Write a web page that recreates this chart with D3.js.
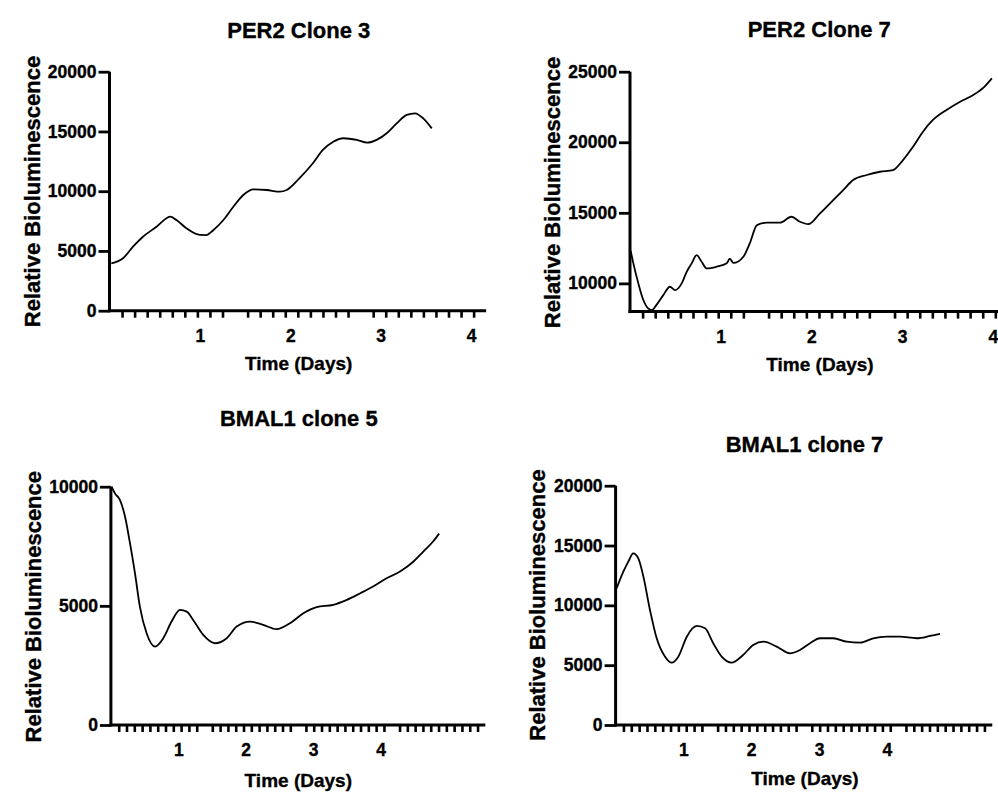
<!DOCTYPE html>
<html><head><meta charset="utf-8">
<script src="https://cdn.jsdelivr.net/npm/d3@7"></script>
<style>
body{margin:0;background:#fff}
svg text{font-family:"Liberation Sans",Arial,Helvetica,sans-serif;font-weight:bold;fill:#000;stroke:#000;stroke-width:0.35px}
</style>
</head><body>
<svg id="chart" width="998" height="793"></svg>
<script>
// ---------- DATA ----------
const per2c3Days   = [0.02,0.15,0.26,0.37,0.52,0.63,0.67,0.74,0.85,1.0,1.07,1.15,1.26,1.37,1.48,1.59,1.74,1.885,1.96,2.1,2.25,2.36,2.475,2.587,2.735,2.85,2.955,3.066,3.177,3.288,3.38,3.47,3.565];
const per2c3Values = [3970,4390,5360,6190,7030,7730,7870,7590,6900,6340,6330,6750,7590,8700,9680,10160,10100,9960,10100,11080,12340,13450,14140,14430,14290,14060,14290,14850,15680,16380,16520,16100,15260];

const per2c7Days   = [0.008,0.037,0.092,0.147,0.2,0.24,0.29,0.367,0.44,0.496,0.57,0.625,0.68,0.735,0.79,0.845,0.955,1.066,1.1,1.14,1.25,1.32,1.40,1.51,1.654,1.78,1.874,1.966,2.095,2.24,2.35,2.46,2.61,2.756,2.90,3.01,3.12,3.23,3.34,3.49,3.64,3.785,3.90,3.99];
const per2c7Values = [12300,11420,10000,8820,8230,8110,8460,9170,9760,9520,10000,10820,11420,12000,11530,11060,11180,11420,11750,11450,11890,12830,14130,14300,14300,14720,14370,14200,14960,15900,16610,17320,17680,17910,18030,18740,19680,20750,21580,22290,22870,23350,23890,24530];

const bmal1c5Days   = [0.01,0.06,0.135,0.21,0.283,0.357,0.43,0.53,0.655,0.777,0.9,1.025,1.125,1.22,1.37,1.545,1.718,1.866,2.064,2.26,2.46,2.657,2.855,3.053,3.3,3.5,3.7,3.89,4.09,4.29,4.49,4.635,4.78,4.87];
const bmal1c5Values = [10000,9720,9440,8740,7630,6370,4970,3850,3290,3640,4340,4830,4760,4410,3780,3430,3640,4130,4340,4200,4020,4270,4690,4950,5040,5250,5530,5810,6160,6440,6860,7280,7700,8030];

const bmal1c7Days   = [0.016,0.114,0.187,0.26,0.335,0.41,0.507,0.606,0.73,0.827,0.925,1.05,1.196,1.32,1.44,1.565,1.71,1.88,2.03,2.18,2.376,2.57,2.72,2.867,3.015,3.21,3.41,3.605,3.8,4.0,4.195,4.44,4.64,4.785];
const bmal1c7Values = [11430,12810,13650,14350,13930,12400,9610,7250,5710,5210,5710,7380,8280,8080,6830,5710,5210,5850,6690,6960,6550,5990,6270,6830,7250,7250,6960,6880,7250,7380,7380,7250,7440,7610];

const titles = ["PER2 Clone 3","PER2 Clone 7","BMAL1 clone 5","BMAL1 clone 7"];
const per2c3YTicks  = [0,5000,10000,15000,20000];
const per2c7YTicks  = [10000,15000,20000,25000];
const bmal1c5YTicks = [0,5000,10000];
const bmal1c7YTicks = [0,5000,10000,15000,20000];
const dayTickLabels = [1,2,3,4];
const xAxisTitle = "Time (Days)";
const yAxisTitle = "Relative Bioluminescence";

// ---------- LAYOUT ----------
const panels = [
  {title:titles[0], days:per2c3Days, values:per2c3Values, yDomain:[0,20000], yTicks:per2c3YTicks,
   xMaxDays:100/24, minorN:30, skip:10,
   x0:109.5, pxDay:90.4, yTop:71.7, yBot:310.7,
   tX:298.8, tY:37.5, xlX:298.7, xlY:370.3, ylX:40, ylY:191.5},
  {title:titles[1], days:per2c7Days, values:per2c7Values, yDomain:[8000,25000], yTicks:per2c7YTicks,
   xMaxDays:100/24, minorN:30, skip:10,
   x0:630, pxDay:90.7, yTop:71.7, yBot:311.6,
   tX:819.2, tY:36.5, xlX:820, xlY:370.5, ylX:560, ylY:192.5},
  {title:titles[2], days:bmal1c5Days, values:bmal1c5Values, yDomain:[0,10000], yTicks:bmal1c5YTicks,
   xMaxDays:(400/3)/24, minorN:48, skip:12,
   x0:110.9, pxDay:67.4, yTop:486.7, yBot:725,
   tX:298.8, tY:426, xlX:298.3, xlY:787, ylX:40.5, ylY:606.7},
  {title:titles[3], days:bmal1c7Days, values:bmal1c7Values, yDomain:[0,20000], yTicks:bmal1c7YTicks,
   xMaxDays:(400/3)/24, minorN:48, skip:12,
   x0:615.6, pxDay:67.8, yTop:485.7, yBot:725,
   tX:804.5, tY:451.5, xlX:805, xlY:785.3, ylX:545, ylY:605}
];

const svg = d3.select("#chart");
svg.append("rect").attr("width",998).attr("height",793).attr("fill","#fff");

panels.forEach(p => {
  const g = svg.append("g");
  const x = d3.scaleLinear().domain([0, p.xMaxDays]).range([p.x0, p.x0 + p.pxDay * p.xMaxDays]);
  const y = d3.scaleLinear().domain(p.yDomain).range([p.yBot, p.yTop]);

  // minor ticks (x)
  const step = p.xMaxDays / p.minorN;
  const minor = d3.range(1, p.minorN + 1).filter(i => i % p.skip !== 0).map(i => i * step);
  const gx = g.append("g").attr("transform", `translate(0,${p.yBot})`)
    .call(d3.axisBottom(x).tickValues(minor).tickSize(7).tickSizeOuter(0).tickFormat(""));
  gx.select(".domain").attr("stroke","#000").attr("stroke-width",3).attr("d",`M${p.x0 - 1.5},0H${x.range()[1]}`);
  gx.selectAll(".tick line").attr("stroke","#000").attr("stroke-width",2.6);

  // day labels
  const gl = g.append("g").attr("transform", `translate(0,${p.yBot})`)
    .call(d3.axisBottom(x).tickValues(dayTickLabels).tickSize(0).tickPadding(19).tickFormat(d3.format("d")));
  gl.select(".domain").remove();
  gl.selectAll("text").style("font-size","17.5px");

  // y axis
  const gy = g.append("g").attr("transform", `translate(${p.x0},0)`)
    .call(d3.axisLeft(y).tickValues(p.yTicks).tickSize(11).tickPadding(2).tickSizeOuter(0).tickFormat(d3.format("d")));
  gy.select(".domain").attr("stroke","#000").attr("stroke-width",3).attr("d",`M0,${p.yTop}V${p.yBot + 1.5}`);
  gy.selectAll(".tick line").attr("stroke","#000").attr("stroke-width",2.8);
  gy.selectAll("text").style("font-size","17.5px");

  // data line
  const pts = p.days.map((d,i) => [d, p.values[i]]);
  g.append("path").datum(pts)
    .attr("fill","none").attr("stroke","#000").attr("stroke-width",1.8)
    .attr("stroke-linejoin","round")
    .attr("d", d3.line().x(d => x(d[0])).y(d => y(d[1])).curve(d3.curveMonotoneX));

  // titles
  g.append("text").attr("x",p.tX).attr("y",p.tY).attr("text-anchor","middle")
    .style("font-size","22px").text(p.title);
  g.append("text").attr("x",p.xlX).attr("y",p.xlY).attr("text-anchor","middle")
    .style("font-size","19px").text(xAxisTitle);
  g.append("text").attr("transform",`translate(${p.ylX},${p.ylY}) rotate(-90)`).attr("text-anchor","middle")
    .style("font-size","22px").text(yAxisTitle);
});
</script>
</body></html>
